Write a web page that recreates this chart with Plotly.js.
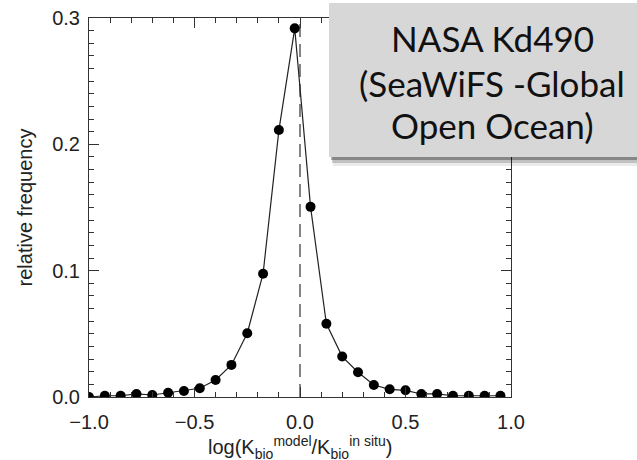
<!DOCTYPE html>
<html>
<head>
<meta charset="utf-8">
<script src="https://cdn.plot.ly/plotly-3.0.1.min.js"></script>
<style>html,body{margin:0;padding:0;background:#fff;}#chart{width:637px;height:460px;}</style>
</head>
<body>
<div id="chart"></div>
<script>
// bin centres of log(Kbio_model / Kbio_insitu)
const logRatio = [-1.0, -0.925, -0.85, -0.775, -0.7, -0.625, -0.55, -0.475, -0.4, -0.325,
  -0.25, -0.175, -0.1, -0.025, 0.05, 0.125, 0.2, 0.275, 0.35, 0.425,
  0.5, 0.575, 0.65, 0.725, 0.8, 0.875, 0.95];
const relFrequency = [0.0, 0.001, 0.001, 0.0024, 0.0016, 0.0034, 0.0048, 0.0069, 0.0135, 0.0254,
  0.0505, 0.0976, 0.2113, 0.2918, 0.1505, 0.058, 0.032, 0.0196, 0.0095, 0.0061,
  0.0053, 0.0024, 0.0024, 0.001, 0.001, 0.001, 0.001];
const refLineX = [0, 0];
const refLineY = [0, 0.3];
const xTickVals = [-1.0, -0.5, 0.0, 0.5, 1.0];
const yTickVals = [0.0, 0.1, 0.2, 0.3];
const boxLines = ["NASA Kd490", "(SeaWiFS -Global", "Open Ocean)"];
const xTitle = "log(K<sub>bio</sub><sup>model</sup>/K<sub>bio</sub><sup>in situ</sup>)";
const yTitle = "relative frequency";

const axisFont = {family: "Liberation Sans, Arial, sans-serif", size: 20, color: "#222"};

const traces = [
  {x: refLineX, y: refLineY, mode: "lines", line: {color: "#333", width: 1.2, dash: "13px,7px"}, hoverinfo: "skip"},
  {x: logRatio, y: relFrequency, mode: "lines+markers",
   line: {color: "#222", width: 1.2},
   marker: {color: "#000", size: 10}}
];

// paper coords helpers (plot area: x 89..511, y 18..397)
const px = v => (v - 89) / 422;
const py = v => (397 - v) / 379;

const shapes = [
  {type: "rect", xref: "paper", yref: "paper", x0: px(333), x1: px(700), y0: py(166), y1: py(157), fillcolor: "rgba(0,0,0,0.08)", line: {width: 0}},
  {type: "rect", xref: "paper", yref: "paper", x0: px(332), x1: px(700), y0: py(163), y1: py(157), fillcolor: "rgba(0,0,0,0.18)", line: {width: 0}},
  {type: "rect", xref: "paper", yref: "paper", x0: px(331), x1: px(700), y0: py(160), y1: py(157), fillcolor: "rgba(0,0,0,0.3)", line: {width: 0}},
  {type: "rect", xref: "paper", yref: "paper", x0: px(329), x1: px(700), y0: py(157), y1: py(3), fillcolor: "#d7d7d7", line: {width: 0}}
];

const lineY = [38, 83, 125];
const annotations = boxLines.map((t, i) => ({
  text: t, xref: "paper", yref: "paper", x: px(492), y: py(lineY[i]),
  xanchor: "center", yanchor: "middle", showarrow: false,
  font: {family: "Lato, Open Sans, sans-serif", size: 35, color: "#111"}
}));
annotations.push({
  text: xTitle, xref: "paper", yref: "paper", x: 0.5, y: py(447),
  xanchor: "center", yanchor: "middle", showarrow: false, font: axisFont
});

const layout = {
  width: 637, height: 460,
  margin: {l: 89, r: 126, t: 18, b: 63},
  paper_bgcolor: "#fff", plot_bgcolor: "#fff",
  showlegend: false,
  xaxis: {
    range: [-1, 1], tickvals: xTickVals, tickformat: ".1f",
    showline: true, linecolor: "#333", linewidth: 1, mirror: "allticks",
    ticks: "inside", ticklen: 10, tickcolor: "#333",
    minor: {dtick: 0.1, ticks: "inside", ticklen: 5, tickcolor: "#333"},
    showgrid: false, zeroline: false, tickfont: axisFont, ticklabelstandoff: 7
  },
  yaxis: {
    range: [0, 0.3], tickvals: yTickVals, tickformat: ".1f",
    showline: true, linecolor: "#333", linewidth: 1, mirror: "allticks",
    ticks: "inside", ticklen: 10, tickcolor: "#333",
    minor: {dtick: 0.01, ticks: "inside", ticklen: 5, tickcolor: "#333"},
    showgrid: false, zeroline: false, tickfont: axisFont, ticklabelstandoff: 4,
    title: {text: yTitle, font: axisFont, standoff: 14}
  },
  shapes: shapes,
  annotations: annotations
};

Plotly.newPlot("chart", traces, layout, {displayModeBar: false, staticPlot: true});
</script>
</body>
</html>
